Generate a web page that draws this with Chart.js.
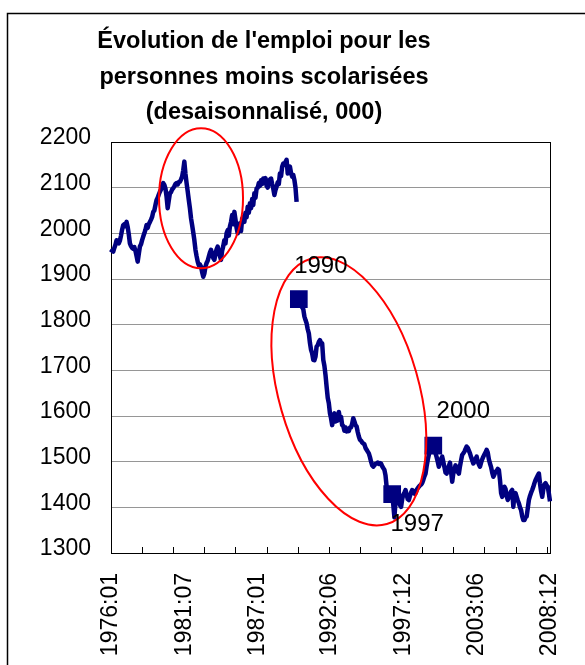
<!DOCTYPE html>
<html lang="fr">
<head>
<meta charset="utf-8">
<title>Évolution de l'emploi pour les personnes moins scolarisées</title>
<script src="https://cdn.jsdelivr.net/npm/chart.js@4.4.1/dist/chart.umd.min.js"></script>
<style>
  html, body { margin: 0; padding: 0; background: #fff; }
  canvas { display: block; }
</style>
</head>
<body>
<canvas id="graphEmploi" width="585" height="665"></canvas>
<script>
// Mois de la série, 1976:01 à 2008:12
const mois = [];
for (let annee = 1976; annee <= 2008; annee++) {
    for (let m = 1; m <= 12; m++) {
        mois.push(annee + ":" + String(m).padStart(2, "0"));
    }
}

// Étiquettes affichées sous l'axe horizontal
const etiquettesAxeX = ["1976:01", "1981:07", "1987:01", "1992:06", "1997:12", "2003:06", "2008:12"];

// Graduations de l'axe vertical (milliers)
const minY = 1300;
const maxY = 2200;
const pasY = 100;

// Ancienne série, 1976:01 à 1989:12 (000, désaisonnalisé)
const serieAvant1990 = [
    1958, 1962, 1960, 1968, 1975, 1985, 1980, 1978, 1984, 1995, 2008, 2018,
    2020, 2016, 2025, 2014, 1998, 1978, 1972, 1968, 1966, 1970, 1962, 1950,
    1938, 1955, 1971, 1976, 1985, 1993, 2000, 2008, 2018, 2012, 2020, 2025,
    2030, 2036, 2047, 2050, 2062, 2073, 2078, 2085, 2091, 2096, 2104, 2110,
    2106, 2098, 2080, 2055, 2072, 2088, 2090, 2096, 2099, 2103, 2108, 2110,
    2107, 2112, 2113, 2118, 2124, 2138, 2157, 2130, 2110, 2092, 2073, 2055,
    2033, 2018, 2002, 1985, 1964, 1950, 1938, 1930, 1932, 1927, 1915, 1905,
    1912, 1927, 1935, 1940, 1949, 1958, 1964, 1955, 1946, 1942, 1955, 1965,
    1971, 1958, 1950, 1942, 1962, 1972, 1985, 1978, 2000, 2007, 1995, 2015,
    2025, 2040, 2020, 2047, 2030, 2012, 2000, 2018, 2022, 2005, 2032, 2036,
    2025, 2045, 2035, 2058, 2045, 2066, 2055, 2075, 2062, 2088, 2078, 2098,
    2100, 2110, 2104, 2116, 2108, 2120, 2112, 2121, 2104, 2100, 2112, 2118,
    2120, 2108, 2098, 2084, 2095, 2102, 2112, 2108, 2131, 2125, 2146, 2153,
    2150, 2156, 2161, 2131, 2140, 2146, 2132, 2124, 2128, 2117, 2100, 2069
];

// Nouvelle série, 1990:01 à 2008:12
const serieDepuis1990 = [
    1858, 1856, 1850, 1842, 1838, 1834, 1818, 1810, 1803, 1790, 1781, 1760,
    1745, 1737, 1723, 1722, 1730, 1752, 1755, 1762, 1766, 1760, 1759, 1723,
    1710, 1690, 1664, 1640, 1628, 1606, 1595, 1580, 1599, 1606, 1588, 1595,
    1590, 1609, 1594, 1598, 1580, 1578, 1568, 1575, 1566, 1572, 1567, 1575,
    1575, 1583, 1595, 1588, 1580, 1577, 1565, 1555, 1548, 1546, 1542, 1540,
    1538, 1530, 1526, 1522, 1518, 1510, 1500, 1492, 1489, 1492, 1495, 1496,
    1498, 1495, 1497, 1496, 1490, 1486, 1482, 1470, 1445, 1432, 1430, 1428,
    1430, 1429, 1405, 1378, 1412, 1425, 1431, 1418, 1405, 1401, 1418, 1428,
    1432, 1438, 1428, 1418, 1416, 1425, 1432, 1438, 1435, 1430, 1431, 1438,
    1442, 1445, 1448, 1450, 1453, 1460, 1468, 1474, 1490, 1504, 1515, 1525,
    1530, 1534, 1535, 1528, 1518, 1510, 1500, 1489, 1498, 1506, 1511, 1500,
    1488, 1476, 1474, 1486, 1490, 1498, 1478, 1456, 1474, 1482, 1492, 1480,
    1478, 1474, 1490, 1503, 1515, 1518, 1522, 1528, 1533, 1530, 1524, 1518,
    1510, 1503, 1496, 1500, 1506, 1511, 1500, 1494, 1489, 1498, 1505, 1511,
    1516, 1520, 1526, 1520, 1505, 1496, 1488, 1476, 1467, 1472, 1478, 1480,
    1484, 1482, 1460, 1431, 1423, 1435, 1445, 1440, 1425, 1416, 1422, 1430,
    1435, 1438, 1401, 1428, 1431, 1423, 1415, 1409, 1400, 1394, 1380, 1372,
    1372, 1378, 1380, 1398, 1416, 1425, 1432, 1438, 1445, 1453, 1460, 1465,
    1470, 1474, 1452, 1435, 1423, 1440, 1450, 1453, 1448, 1445, 1430, 1413
];

// Points repérés sur la nouvelle série
const moisReperes = ["1990:02", "1997:02", "2000:03"];
const etiquettesReperes = ["1990", "1997", "2000"];

// --- mise en forme ---
const POLICE = 'Arial, "Liberation Sans", sans-serif';
const BLEU = "#000080";
const lignesTitre = ["Évolution de l'emploi pour les", "personnes moins scolarisées", "(desaisonnalisé, 000)"];

// décalage (px) de chaque étiquette par rapport à son carré
const decalagesReperes = [[22, -33], [25, 30], [30, -34]];

// ellipses rouges : centre en mois / valeur, rayons en pixels
const ellipses = [
    { mois: 81, valeur: 2077, rx: 42, ry: 70, rotation: 0 },
    { mois: 214, valeur: 1654, rx: 70, ry: 138, rotation: -16 }
];

const toutesValeurs = serieAvant1990.concat(serieDepuis1990);
const vides = n => new Array(n).fill(null);

const donneesAvant = serieAvant1990.concat(vides(serieDepuis1990.length));
const donneesDepuis = vides(serieAvant1990.length).concat(serieDepuis1990);
const donneesReperes = mois.map(m => moisReperes.includes(m) ? toutesValeurs[mois.indexOf(m)] : null);

const fondEtCadre = {
    id: "fondEtCadre",
    beforeDraw(chart) {
        const ctx = chart.ctx;
        ctx.save();
        ctx.fillStyle = "#fff";
        ctx.fillRect(0, 0, chart.width, chart.height);
        // bordure du graphique (gauche et haut seulement visibles)
        ctx.strokeStyle = "#000";
        ctx.lineWidth = 1.5;
        ctx.beginPath();
        ctx.moveTo(7.5, chart.height);
        ctx.lineTo(7.5, 13.5);
        ctx.lineTo(chart.width, 13.5);
        ctx.stroke();
        // titre
        ctx.fillStyle = "#000";
        ctx.font = "bold 23.5px " + POLICE;
        ctx.textAlign = "center";
        ctx.textBaseline = "alphabetic";
        const baselines = [48, 83.5, 118.5];
        lignesTitre.forEach((ligne, i) => ctx.fillText(ligne, 264, baselines[i]));
        ctx.restore();
    },
    beforeDatasetsDraw(chart) {
        const { ctx, chartArea, scales } = chart;
        ctx.save();
        ctx.strokeStyle = "#000";
        ctx.lineWidth = 1;
        ctx.strokeRect(chartArea.left + 0.5, chartArea.top + 0.5,
            chartArea.right - chartArea.left, chartArea.bottom - chartArea.top);
        // petites graduations vers l'intérieur, tous les 28 mois
        ctx.beginPath();
        for (let i = 0; i < mois.length; i += 28) {
            const x = Math.round(scales.x.getPixelForValue(i)) + 0.5;
            ctx.moveTo(x, chartArea.bottom);
            ctx.lineTo(x, chartArea.bottom - 6);
        }
        ctx.stroke();
        ctx.restore();
    },
    afterDatasetsDraw(chart) {
        const { ctx, scales } = chart;
        ctx.save();
        ctx.strokeStyle = "#ff0000";
        ctx.lineWidth = 2;
        ellipses.forEach(e => {
            ctx.beginPath();
            ctx.ellipse(scales.x.getPixelForValue(e.mois), scales.y.getPixelForValue(e.valeur),
                e.rx, e.ry, e.rotation * Math.PI / 180, 0, Math.PI * 2);
            ctx.stroke();
        });
        // années à côté des carrés
        const points = chart.getDatasetMeta(0).data;
        ctx.fillStyle = "#000";
        ctx.font = "24px " + POLICE;
        ctx.textAlign = "center";
        ctx.textBaseline = "middle";
        moisReperes.forEach((m, k) => {
            const pt = points[mois.indexOf(m)];
            ctx.fillText(etiquettesReperes[k], pt.x + decalagesReperes[k][0], pt.y + decalagesReperes[k][1]);
        });
        ctx.restore();
    }
};

new Chart(document.getElementById("graphEmploi"), {
    type: "line",
    data: {
        labels: mois,
        datasets: [
            {
                label: "Repères",
                data: donneesReperes,
                showLine: false,
                pointStyle: "rect",
                pointRadius: 12.5,
                pointBackgroundColor: BLEU,
                pointBorderWidth: 0,
                order: 0
            },
            {
                label: "1976-1989",
                data: donneesAvant,
                borderColor: BLEU,
                borderWidth: 4.5,
                borderJoinStyle: "round",
                pointRadius: 0,
                tension: 0,
                spanGaps: false,
                order: 1
            },
            {
                label: "1990-2008",
                data: donneesDepuis,
                borderColor: BLEU,
                borderWidth: 4.5,
                borderJoinStyle: "round",
                pointRadius: 0,
                tension: 0,
                spanGaps: false,
                order: 1
            }
        ]
    },
    options: {
        responsive: false,
        animation: false,
        events: [],
        layout: { padding: { top: 142, right: 35, bottom: 0, left: 0 } },
        plugins: {
            legend: { display: false },
            tooltip: { enabled: false },
            title: { display: false }
        },
        scales: {
            x: {
                type: "category",
                offset: false,
                grid: { display: false, drawTicks: false },
                border: { display: true, color: "#000" },
                ticks: {
                    autoSkip: false,
                    minRotation: 90,
                    maxRotation: 90,
                    padding: 20,
                    color: "#000",
                    font: { family: POLICE, size: 23 }
                },
                afterBuildTicks: scale => {
                    scale.ticks = etiquettesAxeX.map(lbl => ({ value: mois.indexOf(lbl) }));
                },
                afterFit: scale => {
                    scale.height = 112;
                    scale.paddingLeft = 0;
                    scale.paddingRight = 0;
                }
            },
            y: {
                min: minY,
                max: maxY,
                grid: { color: "#969696", lineWidth: 1, drawTicks: false },
                border: { display: true, color: "#000" },
                ticks: {
                    stepSize: pasY,
                    padding: 20,
                    labelOffset: -4,
                    color: "#000",
                    font: { family: POLICE, size: 23 },
                    callback: v => String(v)
                },
                afterFit: scale => { scale.width = 111; }
            }
        }
    },
    plugins: [fondEtCadre]
});
</script>
</body>
</html>
